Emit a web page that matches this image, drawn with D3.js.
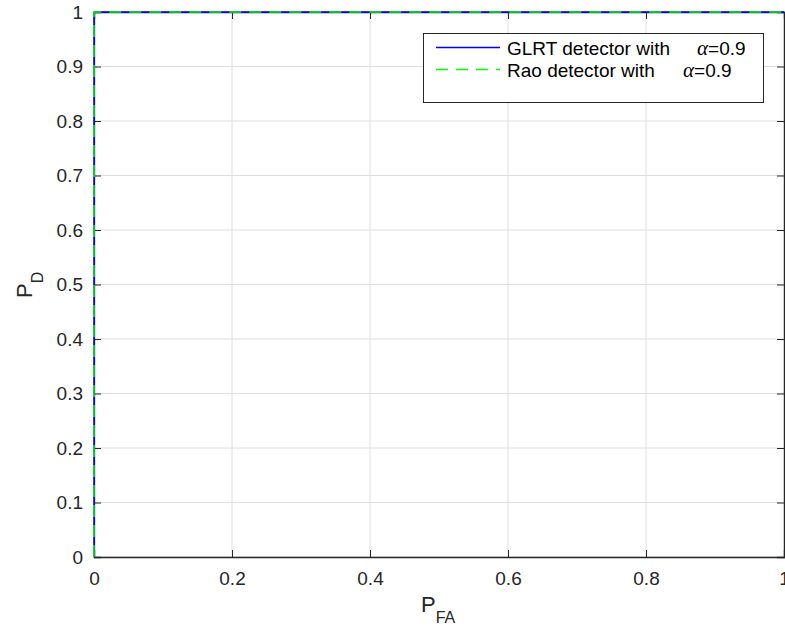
<!DOCTYPE html>
<html lang="en">
<head>
<meta charset="utf-8">
<script src="https://d3js.org/d3.v7.min.js"></script>
<style type="text/css">
body {
	margin: 0;
	background: white;
	font-family: "Liberation Sans", Arial, sans-serif;
}
</style>
</head>
<body>
<script type="text/javascript">

// ROC curves (probability of false alarm vs probability of detection)
var pfa = [0, 0, 0.0005, 1];
var pdGlrt = [0, 0.999, 1, 1];
var pdRao = [0, 0.999, 1, 1];

var xTicks = [0, 0.2, 0.4, 0.6, 0.8, 1];
var yTicks = [0, 0.1, 0.2, 0.3, 0.4, 0.5, 0.6, 0.7, 0.8, 0.9, 1];

var seriesNames = ["GLRT detector with", "Rao detector with"];
var seriesColors = ["#0000ff", "#00ff00"];

var width = 785;
var height = 629;
var margin = {left: 94, right: 1, top: 12, bottom: 72};

var svg = d3.select("body")
	.append("svg")
	.attr("width", width)
	.attr("height", height);

var x = d3.scaleLinear()
	.domain([0, 1])
	.range([margin.left, width - margin.right]);

var y = d3.scaleLinear()
	.domain([0, 1])
	.range([height - margin.bottom, margin.top]);

var axisColor = "#262626";
var tickFont = "19px";

// grid
svg.append("g")
	.selectAll("line")
	.data(xTicks)
	.enter()
	.append("line")
	.attr("x1", function(d) { return x(d); })
	.attr("x2", function(d) { return x(d); })
	.attr("y1", y(0))
	.attr("y2", y(1))
	.style("stroke", "#dedede")
	.style("stroke-width", 1);

svg.append("g")
	.selectAll("line")
	.data(yTicks)
	.enter()
	.append("line")
	.attr("x1", x(0))
	.attr("x2", x(1))
	.attr("y1", function(d) { return y(d); })
	.attr("y2", function(d) { return y(d); })
	.style("stroke", "#dedede")
	.style("stroke-width", 1);

// axes, ticks pointing inward like matlab
var fmt = function(d) { return d3.format("")(+d.toFixed(1)); };

var xAxis = svg.append("g")
	.attr("transform", "translate(0," + y(0) + ")")
	.call(d3.axisBottom(x).tickValues(xTicks).tickSize(-7).tickPadding(15).tickFormat(fmt));

var yAxis = svg.append("g")
	.attr("transform", "translate(" + x(0) + ",0)")
	.call(d3.axisLeft(y).tickValues(yTicks).tickSize(-7).tickPadding(11).tickFormat(fmt));

var xTop = svg.append("g")
	.attr("transform", "translate(0," + y(1) + ")")
	.call(d3.axisTop(x).tickValues(xTicks).tickSize(-7).tickFormat(""));

var yRight = svg.append("g")
	.attr("transform", "translate(" + x(1) + ",0)")
	.call(d3.axisRight(y).tickValues(yTicks).tickSize(-7).tickFormat(""));

[xAxis, yAxis, xTop, yRight].forEach(function(g) {
	g.selectAll("path").style("stroke", axisColor).style("stroke-width", 1.3);
	g.selectAll("line").style("stroke", axisColor);
	g.selectAll("text")
		.style("fill", axisColor)
		.style("font-size", tickFont)
		.style("font-family", "Liberation Sans, Arial, sans-serif");
});

// curves
var line = d3.line()
	.x(function(d) { return x(d[0]); })
	.y(function(d) { return y(d[1]); });

svg.append("path")
	.datum(d3.zip(pfa, pdGlrt))
	.attr("d", line)
	.style("fill", "none")
	.style("stroke", seriesColors[0])
	.style("stroke-width", 1.5);

svg.append("path")
	.datum(d3.zip(pfa, pdRao))
	.attr("d", line)
	.style("fill", "none")
	.style("stroke", seriesColors[1])
	.style("stroke-width", 1.5)
	.style("stroke-dasharray", "12,8");

// axis labels
var xlab = svg.append("text")
	.attr("x", 421)
	.attr("y", 612)
	.style("font-size", "22px")
	.style("fill", axisColor);
xlab.append("tspan").text("P");
xlab.append("tspan").attr("dy", 11).style("font-size", "16px").text("FA");

var ylab = svg.append("text")
	.attr("transform", "translate(32,298) rotate(-90)")
	.style("font-size", "22px")
	.style("fill", axisColor);
ylab.append("tspan").text("P");
ylab.append("tspan").attr("dy", 11).style("font-size", "16px").text("D");

// legend
var legend = svg.append("g");

legend.append("rect")
	.attr("x", 423.5)
	.attr("y", 33.5)
	.attr("width", 340)
	.attr("height", 69)
	.style("fill", "white")
	.style("stroke", axisColor)
	.style("stroke-width", 1);

var rows = legend.selectAll("g.row")
	.data(seriesNames)
	.enter()
	.append("g")
	.attr("class", "row")
	.attr("transform", function(d, i) { return "translate(0," + (48 + i * 22) + ")"; });

rows.append("line")
	.attr("x1", 436)
	.attr("x2", 500)
	.attr("y1", -0.5)
	.attr("y2", -0.5)
	.style("stroke", function(d, i) { return seriesColors[i]; })
	.style("stroke-width", 1.6)
	.style("stroke-dasharray", function(d, i) { return i == 1 ? "12,8" : null; });

rows.append("text")
	.attr("x", 507)
	.attr("dy", "0.35em")
	.style("font-size", "19px")
	.style("fill", "#000")
	.text(function(d) { return d; });

var alphaText = rows.append("text")
	.attr("x", function(d, i) { return i == 0 ? 697 : 683; })
	.attr("dy", "0.35em")
	.style("font-size", "19px")
	.style("fill", "#000");
alphaText.append("tspan")
	.style("font-family", "Liberation Serif, serif")
	.style("font-style", "italic")
	.style("font-size", "21px")
	.text("\u03b1");
alphaText.append("tspan").text("=0.9");

</script>
</body>
</html>
